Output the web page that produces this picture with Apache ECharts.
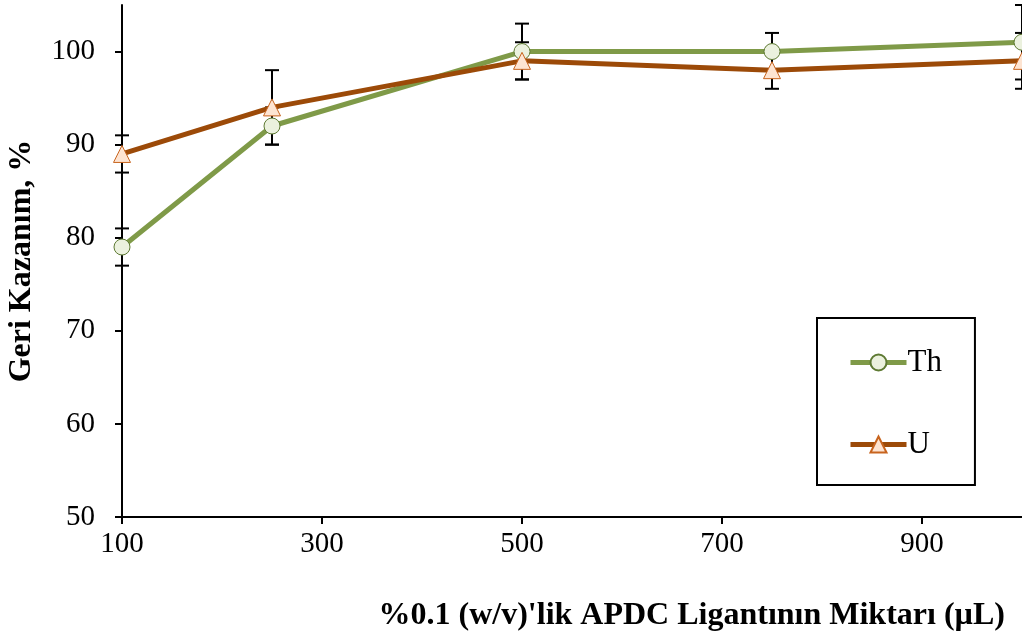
<!DOCTYPE html>
<html>
<head>
<meta charset="utf-8">
<script src="https://cdn.jsdelivr.net/npm/echarts@6/dist/echarts.min.js"></script>
<style>html,body{margin:0;padding:0;background:#fff}#c{width:1022px;height:641px}</style>
</head>
<body>
<div id="c"></div>
<script>
const xValues = [100, 250, 500, 750, 1000];
const thValues = [79, 92, 100, 100, 101];
const thErr = [2, 2, 3, 2, 4];
const uValues = [89, 94, 99, 98, 99];
const uErr = [2, 4, 2, 2, 3];
const xTicks = [100, 300, 500, 700, 900];
const yTicks = [50, 60, 70, 80, 90, 100];

const FONT = '"Liberation Serif", "Times New Roman", serif';
const TH_LINE = '#7F9A48';
const U_LINE = '#9C4A08';
const chart = echarts.init(document.getElementById('c'));

function errSeries(vals, errs) {
  return {
    type: 'custom',
    z: 1,
    silent: true,
    clip: false,
    data: xValues.map((x, i) => [x, vals[i] - errs[i], vals[i] + errs[i]]),
    renderItem: function (params, api) {
      const x = api.value(0);
      const lo = api.coord([x, api.value(1)]);
      const hi = api.coord([x, api.value(2)]);
      const w = 7;
      const st = { stroke: '#000', lineWidth: 2 };
      return {
        type: 'group',
        children: [
          { type: 'line', shape: { x1: lo[0], y1: lo[1], x2: hi[0], y2: hi[1] }, style: st },
          { type: 'line', shape: { x1: lo[0] - w, y1: lo[1], x2: lo[0] + w, y2: lo[1] }, style: st },
          { type: 'line', shape: { x1: hi[0] - w, y1: hi[1], x2: hi[0] + w, y2: hi[1] }, style: st }
        ]
      };
    }
  };
}

chart.setOption({
  animation: false,
  backgroundColor: '#fff',
  textStyle: { fontFamily: FONT },
  grid: { left: 122, right: 0, top: 5, bottom: 124, outerBoundsMode: 'none', containLabel: false },
  legend: {
    orient: 'vertical',
    left: 817,
    top: 318,
    padding: [29, 33, 25, 31],
    itemGap: 51,
    itemWidth: 56,
    itemHeight: 20,
    borderColor: '#000',
    borderWidth: 2,
    textStyle: { fontFamily: FONT, fontSize: 31, color: '#000', padding: [0, 0, 0, -4] },
    data: [
      { name: 'Th', lineStyle: { width: 5, color: TH_LINE } },
      { name: 'U', lineStyle: { width: 5, color: U_LINE } }
    ]
  },
  xAxis: {
    type: 'value',
    min: 100,
    max: 1000,
    interval: 200,
    splitLine: { show: false },
    axisLine: { lineStyle: { color: '#000', width: 2 } },
    axisTick: { length: 7, lineStyle: { color: '#000', width: 2 }, customValues: xTicks },
    axisLabel: { fontFamily: FONT, fontSize: 29, color: '#000', margin: 13, customValues: xTicks }
  },
  yAxis: {
    type: 'value',
    min: 50,
    max: 105,
    interval: 10,
    splitLine: { show: false },
    name: 'Geri Kazanım, %',
    nameLocation: 'middle',
    nameGap: 84,
    nameTextStyle: { fontFamily: FONT, fontSize: 32, fontWeight: 'bold', color: '#000' },
    axisLine: { show: true, lineStyle: { color: '#000', width: 2 } },
    axisTick: { show: true, length: 7, lineStyle: { color: '#000', width: 2 }, customValues: yTicks },
    axisLabel: { fontFamily: FONT, fontSize: 29, color: '#000', margin: 27, customValues: yTicks }
  },
  graphic: [{
    type: 'text',
    right: 17,
    top: 600,
    style: {
      text: "%0.1 (w/v)'lik APDC Ligantının Miktarı (µL)",
      font: 'bold 32px ' + FONT,
      fill: '#000'
    }
  }],
  series: [
    errSeries(thValues, thErr),
    errSeries(uValues, uErr),
    {
      name: 'Th',
      type: 'line',
      z: 3,
      clip: false,
      data: xValues.map((x, i) => [x, thValues[i]]),
      symbol: 'circle',
      symbolSize: 16,
      lineStyle: { color: TH_LINE, width: 5 },
      itemStyle: { color: '#EBF1DE', borderColor: '#5E7A33', borderWidth: 1 }
    },
    {
      name: 'U',
      type: 'line',
      z: 4,
      clip: false,
      data: xValues.map((x, i) => [x, uValues[i]]),
      symbol: 'triangle',
      symbolSize: 17,
      lineStyle: { color: U_LINE, width: 5 },
      itemStyle: { color: '#FDE4D2', borderColor: '#C8641E', borderWidth: 1 }
    }
  ]
});
</script>
</body>
</html>
